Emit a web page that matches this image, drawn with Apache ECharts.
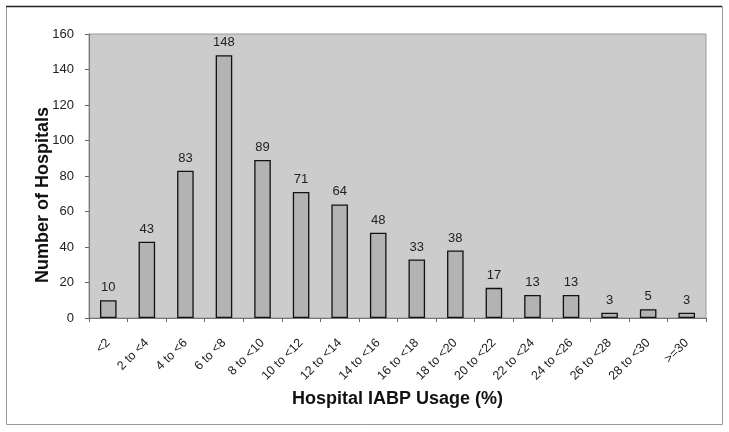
<!DOCTYPE html>
<html><head><meta charset="utf-8">
<script src="https://cdn.jsdelivr.net/npm/echarts@6/dist/echarts.min.js"></script>
<style>html,body{margin:0;padding:0;background:#fff}#c{width:729px;height:432px}</style>
</head><body><div id="c"></div>
<script>
const categories = ['<2','2 to <4','4 to <6','6 to <8','8 to <10','10 to <12','12 to <14','14 to <16','16 to <18','18 to <20','20 to <22','22 to <24','24 to <26','26 to <28','28 to <30','>=30'];
const hospitals = [10,43,83,148,89,71,64,48,33,38,17,13,13,3,5,3];
const yTicks = [0,20,40,60,80,100,120,140,160];

const chart = echarts.init(document.getElementById('c'), null, {renderer:'canvas'});
const F = 'Liberation Sans, Arial, sans-serif';
chart.setOption({
  animation:false,
  backgroundColor:'#fff',
  grid:{left:89,right:23,top:34,bottom:114,show:true,backgroundColor:'#cccccc',borderColor:'#999999',borderWidth:1},
  xAxis:{
    type:'category', data:categories,
    axisLine:{lineStyle:{color:'#777',width:1}},
    axisTick:{show:true,alignWithLabel:false,length:4,lineStyle:{color:'#666'}},
    axisLabel:{rotate:45,fontFamily:F,fontSize:12.5,color:'#222',margin:23,interval:0},
    name:'Hospital IABP Usage (%)', nameLocation:'middle', nameGap:70,
    nameTextStyle:{fontFamily:F,fontSize:18,fontWeight:'bold',color:'#111'}
  },
  yAxis:{
    type:'value', min:yTicks[0], max:yTicks[yTicks.length-1], interval:20,
    axisLine:{show:true,lineStyle:{color:'#777',width:1}},
    axisTick:{show:true,length:4,lineStyle:{color:'#666'}},
    splitLine:{show:false},
    axisLabel:{fontFamily:F,fontSize:13,color:'#222',margin:15}
  },
  graphic:[
    {type:'rect',shape:{x:6.5,y:6.5,width:716,height:418},style:{fill:'none',stroke:'#999',lineWidth:1},silent:true},
    {type:'line',shape:{x1:6,y1:6.5,x2:722,y2:6.5},style:{stroke:'#222',lineWidth:1.5},silent:true},
    {type:'text',x:43,y:195,rotation:Math.PI/2,
     style:{text:'Number of Hospitals',font:'bold 18px '+F,fill:'#111',textAlign:'center',textVerticalAlign:'middle'}}
  ],
  series:[{
    type:'bar', data:hospitals, barWidth:'43%',
    itemStyle:{color:'#b3b3b3',borderColor:'#111',borderWidth:1.3},
    label:{show:true,position:'top',fontFamily:F,fontSize:13,color:'#222',distance:6}
  }]
});
</script></body></html>
